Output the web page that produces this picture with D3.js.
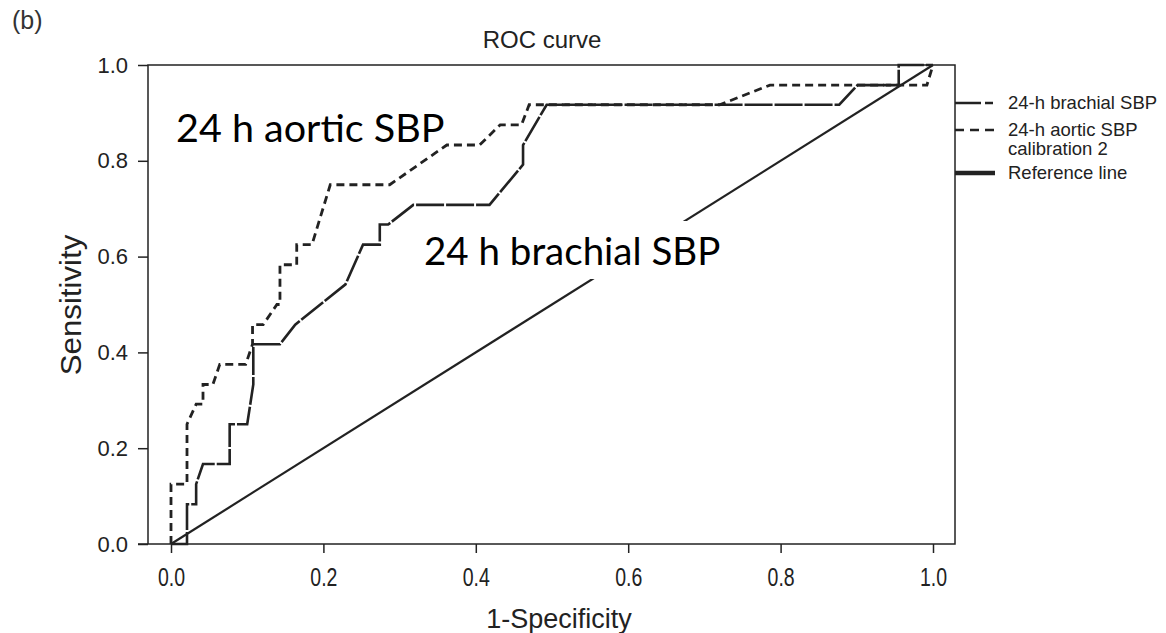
<!DOCTYPE html>
<html>
<head>
<meta charset="utf-8">
<script src="https://cdn.jsdelivr.net/npm/d3@7"></script>
<style>
  body { margin: 0; background: #fff; }
  svg { display: block; }
</style>
</head>
<body>
<div id="roc"></div>
<script>
// ROC points (1-specificity, sensitivity)
var brachialFpr = [0, 0.021, 0.021, 0.033, 0.033, 0.042, 0.077, 0.077, 0.100, 0.108, 0.108, 0.143, 0.163, 0.229, 0.252, 0.274, 0.274, 0.285, 0.318, 0.418, 0.462, 0.462, 0.493, 0.877, 0.901, 0.955, 0.955, 1.0];
var brachialTpr = [0, 0, 0.083, 0.083, 0.125, 0.167, 0.167, 0.250, 0.250, 0.333, 0.417, 0.417, 0.458, 0.542, 0.625, 0.625, 0.667, 0.667, 0.708, 0.708, 0.792, 0.833, 0.917, 0.917, 0.958, 0.958, 1.0, 1.0];

var aorticFpr = [0, 0, 0.021, 0.021, 0.033, 0.042, 0.042, 0.055, 0.064, 0.098, 0.107, 0.107, 0.121, 0.139, 0.143, 0.143, 0.165, 0.165, 0.185, 0.209, 0.287, 0.362, 0.405, 0.432, 0.460, 0.470, 0.720, 0.786, 0.992, 1.0];
var aorticTpr = [0, 0.125, 0.125, 0.250, 0.292, 0.292, 0.333, 0.333, 0.375, 0.375, 0.417, 0.458, 0.458, 0.500, 0.500, 0.583, 0.583, 0.625, 0.625, 0.750, 0.750, 0.833, 0.833, 0.875, 0.875, 0.917, 0.917, 0.958, 0.958, 1.0];

var refFpr = [0, 1];
var refTpr = [0, 1];

var xTicks = [0, 0.2, 0.4, 0.6, 0.8, 1.0];
var yTicks = [0, 0.2, 0.4, 0.6, 0.8, 1.0];
var legendLabels = [["24-h brachial SBP"], ["24-h aortic SBP", "calibration 2"], ["Reference line"]];

var W = 1166, H = 633;
var sans = "'Liberation Sans', Arial, sans-serif";
var ink = "#222";

var svg = d3.select("#roc")
  .append("svg")
    .attr("width", W)
    .attr("height", H);

var x = d3.scaleLinear().domain([0, 1]).range([171, 933]);
var y = d3.scaleLinear().domain([0, 1]).range([544, 65]);

var left = 148, right = 955;

// frame: left axis, bottom axis, top + right border
svg.append("rect")
  .attr("x", left).attr("y", y(1))
  .attr("width", right - left).attr("height", y(0) - y(1))
  .attr("fill", "none").attr("stroke", ink).attr("stroke-width", 1.5);

// Y axis ticks
svg.append("g")
  .attr("transform", "translate(" + left + ",0)")
  .call(d3.axisLeft(y).tickValues(yTicks).tickFormat(d3.format(".1f")).tickSize(10).tickPadding(10))
  .call(function(g) { g.select(".domain").remove(); })
  .call(function(g) {
    g.selectAll("line").attr("stroke", ink).attr("stroke-width", 1.5);
    g.selectAll("text").attr("fill", ink).style("font-family", sans).style("font-size", "22px");
  });

// X axis ticks (labels a little condensed like the original)
svg.append("g")
  .attr("transform", "translate(0," + y(0) + ")")
  .call(d3.axisBottom(x).tickValues(xTicks).tickFormat(d3.format(".1f")).tickSize(9).tickPadding(15))
  .call(function(g) { g.select(".domain").remove(); })
  .call(function(g) {
    g.selectAll("line").attr("stroke", ink).attr("stroke-width", 1.5);
    g.selectAll("text")
      .attr("fill", ink)
      .attr("transform", "scale(0.78,1)")
      .style("font-family", sans).style("font-size", "25px");
  });

svg.append("line").attr("x1", 138).attr("x2", left).attr("y1", y(0)).attr("y2", y(0))
  .attr("stroke", ink).attr("stroke-width", 1.5);

var line = d3.line()
  .x(function(d) { return x(d[0]); })
  .y(function(d) { return y(d[1]); });

function pts(xs, ys) { return xs.map(function(v, i) { return [v, ys[i]]; }); }

// reference line
svg.append("path")
  .datum(pts(refFpr, refTpr))
  .attr("d", line)
  .attr("fill", "none").attr("stroke", ink).attr("stroke-width", 2.2);

// brachial
svg.append("path")
  .datum(pts(brachialFpr, brachialTpr))
  .attr("d", line)
  .attr("fill", "none").attr("stroke", ink).attr("stroke-width", 2.6)
  .attr("stroke-dasharray", "28,2");

// aortic
svg.append("path")
  .datum(pts(aorticFpr, aorticTpr))
  .attr("d", line)
  .attr("fill", "none").attr("stroke", ink).attr("stroke-width", 2.8)
  .attr("stroke-dasharray", "8,5");

// annotations; the brachial one sits on a white box that hides the reference line
function note(txt, tx, ty, size, backed) {
  var g = svg.append("g");
  var t = g.append("text")
    .attr("x", tx).attr("y", ty)
    .attr("fill", "#000")
    .style("font-family", "Lato, 'Open Sans', sans-serif")
    .style("font-size", size + "px")
    .text(txt);
  if (backed) {
    var b = t.node().getBBox();
    g.insert("rect", "text")
      .attr("x", b.x - 6).attr("y", b.y - 6)
      .attr("width", b.width + 12).attr("height", b.height + 12)
      .attr("fill", "#fff");
  }
}
note("24 h aortic SBP", 176, 142, 39.5, false);
note("24 h brachial SBP", 424, 265, 38.5, true);

// title and axis labels
svg.append("text")
  .attr("x", 542).attr("y", 48)
  .attr("text-anchor", "middle")
  .attr("fill", ink)
  .style("font-family", sans).style("font-size", "24px")
  .text("ROC curve");

svg.append("text")
  .attr("x", 559).attr("y", 628)
  .attr("text-anchor", "middle")
  .attr("fill", ink)
  .style("font-family", sans).style("font-size", "27px")
  .text("1-Specificity");

svg.append("text")
  .attr("transform", "translate(81,305) rotate(-90) scale(1.25,1.15)")
  .attr("text-anchor", "middle")
  .attr("fill", ink)
  .style("font-family", sans).style("font-size", "25px")
  .text("Sensitivity");

svg.append("text")
  .attr("x", 12).attr("y", 29)
  .attr("fill", "#333")
  .style("font-family", sans).style("font-size", "25px")
  .text("(b)");

// legend hanging off the right border
var legY = [103, 130, 173];
var legDash = ["26,4,8,40", "9,6", null];
var legWidth = [2.6, 2.6, 4.5];
legY.forEach(function(ly, i) {
  svg.append("line")
    .attr("x1", right).attr("x2", right + 40)
    .attr("y1", ly).attr("y2", ly)
    .attr("stroke", ink).attr("stroke-width", legWidth[i])
    .attr("stroke-dasharray", legDash[i]);
  legendLabels[i].forEach(function(s, j) {
    svg.append("text")
      .attr("x", 1008).attr("y", ly + 6 + j * 19)
      .attr("fill", ink)
      .style("font-family", sans).style("font-size", "18.5px")
      .text(s);
  });
});
</script>
</body>
</html>
